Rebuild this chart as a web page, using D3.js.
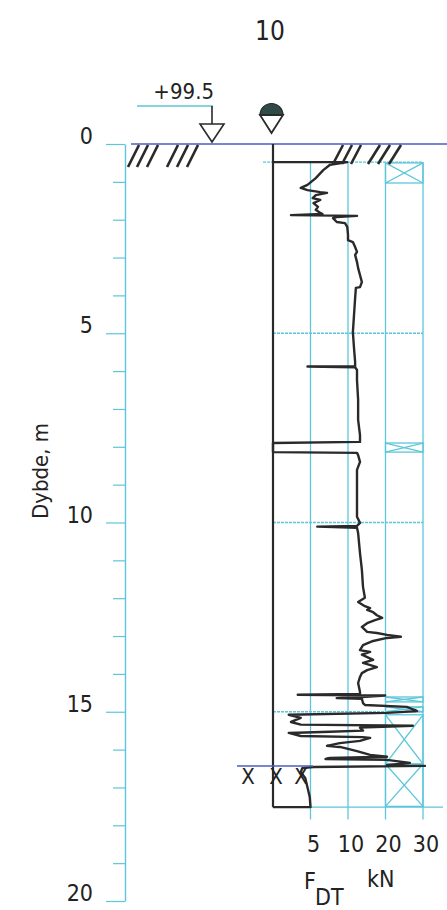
<!DOCTYPE html>
<html><head><meta charset="utf-8">
<script src="https://cdn.jsdelivr.net/npm/d3@7"></script>
<style>
html,body{margin:0;padding:0;background:#fff;}
svg{display:block;}
text{font-family:'DejaVu Sans Condensed','DejaVu Sans',sans-serif;font-stretch:condensed;fill:#222;}
</style></head><body>
<svg id="chart" width="447" height="910"></svg>
<script>
// ---------- data ----------
const title = "10";
const axisTitle = "Dybde, m";
const elevationLabel = "+99.5";
const depthTicks = d3.range(0, 21, 1);
const depthLabels = [0, 5, 10, 15, 20];
const forceTicks = [5, 10, 20, 30];
const forceBreaks = [0, 10, 30];
const forceUnit = "kN";
const gridDepths = [5, 10, 15];
const soundingTop = 0.48;
const soundingEnd = 17.52;
const gridBottom = 17.85;
const markerDepth = 16.43;
const crossIntervals = [[0.50, 1.03], [7.90, 8.14], [14.61, 14.74], [14.87, 15.0], [15.08, 16.38], [16.38, 17.5]];
const profileDepth = [0.48,0.48,0.50,0.55,0.69,0.90,1.08,1.16,1.22,1.27,1.29,1.35,1.43,1.48,1.56,1.66,1.74,1.82,1.85,1.88,1.90,1.93,1.96,2.06,2.09,2.19,2.40,2.54,2.59,2.72,2.85,2.93,3.12,3.28,3.46,3.65,3.78,3.80,4.07,4.52,4.97,5.39,5.76,5.87,5.88,5.90,5.97,6.24,6.76,7.29,7.69,7.87,7.90,8.14,8.16,8.22,8.40,8.61,9.14,9.85,10.01,10.09,10.11,10.14,10.28,10.81,11.25,11.70,11.99,12.10,12.21,12.26,12.31,12.37,12.45,12.52,12.58,12.66,12.76,12.89,12.92,12.97,13.02,13.05,13.13,13.24,13.37,13.42,13.49,13.63,13.71,13.82,13.90,13.98,14.08,14.24,14.48,14.53,14.55,14.57,14.61,14.64,14.66,14.77,14.82,14.87,14.98,15.01,15.03,15.08,15.16,15.27,15.34,15.37,15.42,15.50,15.53,15.56,15.64,15.67,15.69,15.77,15.83,15.90,15.93,15.96,16.04,16.14,16.19,16.22,16.25,16.27,16.35,16.41,16.43,16.46,16.49,16.60,16.75,17.00,17.25,17.52,17.52];
const profileForce = [0,9.9,9.3,7.6,6.7,5.7,4.6,3.7,4.6,6.3,7.2,5.7,5.3,6.3,5.4,6.0,5.7,6.3,6.6,2.4,12.4,8.5,8.0,8.5,9.6,9.9,10.0,10.0,11.3,11.9,12.4,11.9,12.4,12.7,13.2,13.7,13.2,12.1,11.9,11.6,11.3,11.6,11.9,11.9,4.6,11.9,12.4,12.4,12.7,12.7,13.2,13.2,0,0,12.4,12.7,13.2,12.4,12.4,12.4,13.2,12.4,5.9,12.4,12.7,13.2,13.7,14.0,14.5,12.7,14.5,15.9,15.1,16.7,17.7,19.1,17.2,15.1,13.7,15.1,17.7,20.4,24.1,20.4,16.7,14.0,13.2,15.9,13.7,16.7,14.0,17.7,15.1,13.7,13.2,12.7,13.2,13.2,3.3,19.9,13.7,8.5,13.7,14.0,14.5,25.7,28.4,23.9,20.4,2.1,3.7,2.4,3.7,27.3,13.2,14.0,7.6,2.1,3.7,14.0,15.9,13.2,8.9,7.2,8.9,9.6,12.4,15.9,20.4,7.6,7.0,20.4,26.5,20.4,30.5,5.4,3.9,3.7,4.3,4.6,4.9,5.0,0];

// ---------- styles ----------
const CYAN = "#5cc6da", BLUE = "#4a5ec6", INK = "#2a2a2a";

const svg = d3.select("#chart");
const y = d3.scaleLinear().domain([0, 20]).range([144, 901]);
const x = d3.scaleLinear().domain(forceBreaks).range([273, 348, 423]);

// title
svg.append("text").attr("x", 270).attr("y", 40).attr("text-anchor", "middle")
  .style("font-size", "26px").text(title);

// depth axis
const axisG = svg.append("g").attr("transform", "translate(125,0)")
  .call(d3.axisLeft(y).tickValues(depthTicks).tickSize(12).tickSizeOuter(0).tickFormat(""));
axisG.select(".domain").attr("stroke", CYAN).attr("stroke-width", 1.4);
axisG.selectAll(".tick line").attr("stroke", CYAN).attr("stroke-width", 1.2)
  .attr("x2", d => depthLabels.includes(d) ? -19 : -12);
svg.selectAll(".dlab").data(depthLabels).enter().append("text")
  .attr("x", 93).attr("y", d => y(d)).attr("text-anchor", "end")
  .style("font-size", "23px").text(d => d);
svg.append("text").attr("transform", "translate(48," + 471 + ") rotate(-90)")
  .attr("text-anchor", "middle").style("font-size", "22px").text(axisTitle);

// cyan grid
const grid = svg.append("g").attr("stroke", CYAN).attr("stroke-width", 1.3).attr("fill", "none");
forceTicks.forEach(f => grid.append("line").attr("x1", x(f)).attr("x2", x(f))
  .attr("y1", y(soundingTop)).attr("y2", y(gridBottom)));
grid.append("line").attr("x1", x(0) - 10).attr("x2", x(30)).attr("y1", y(soundingTop)).attr("y2", y(soundingTop))
  .attr("stroke-dasharray", "3,1");
gridDepths.forEach(d => grid.append("line").attr("x1", x(0)).attr("x2", x(30))
  .attr("y1", y(d)).attr("y2", y(d)).attr("stroke-dasharray", "3,1"));
grid.append("line").attr("x1", x(5)).attr("x2", 443).attr("y1", y(soundingEnd)).attr("y2", y(soundingEnd));

// cross boxes
crossIntervals.forEach(([a, b]) => {
  const x0 = x(20), x1 = x(30), y0 = y(a), y1 = y(b);
  grid.append("rect").attr("x", x0).attr("y", y0).attr("width", x1 - x0).attr("height", y1 - y0);
  grid.append("line").attr("x1", x0).attr("y1", y0).attr("x2", x1).attr("y2", y1);
  grid.append("line").attr("x1", x1).attr("y1", y0).attr("x2", x0).attr("y2", y1);
});

// ground surface
svg.append("line").attr("x1", 131).attr("x2", 447).attr("y1", y(0)).attr("y2", y(0))
  .attr("stroke", BLUE).attr("stroke-width", 1.5);
const hatch = svg.append("g").attr("stroke", INK).attr("stroke-width", 2.6);
[128,137,147,167,177,187].forEach(b =>
  hatch.append("line").attr("x1", b).attr("y1", 167).attr("x2", b + 11).attr("y2", 145));
[[333,342,351],[368,378,389]].forEach((arr, i) => arr.forEach(b =>
  hatch.append("line").attr("x1", b).attr("y1", 164).attr("x2", b + 10 + i * 2).attr("y2", 145)));

// elevation marker
svg.append("line").attr("x1", 137).attr("x2", 213).attr("y1", 106).attr("y2", 106)
  .attr("stroke", CYAN).attr("stroke-width", 1.3);
svg.append("line").attr("x1", 212).attr("x2", 212).attr("y1", 106).attr("y2", 124)
  .attr("stroke", INK).attr("stroke-width", 1.6);
svg.append("path").attr("d", "M200,124L224,124L212,142Z").attr("fill", "#fff")
  .attr("stroke", INK).attr("stroke-width", 1.6);
svg.append("text").attr("x", 214).attr("y", 99).attr("text-anchor", "end")
  .style("font-size", "22px").text(elevationLabel);

// sounding symbol
const cx = x(0) - 1.5, cy = 115, r = 11.5;
svg.append("path").attr("d", `M${cx - r},${cy}A${r},${r} 0 0 1 ${cx + r},${cy}Z`)
  .attr("fill", "#2f4a47").attr("stroke", INK).attr("stroke-width", 1.2);
svg.append("path").attr("d", `M${cx - r},${cy}L${cx + r},${cy}L${cx},${cy + 18}Z`)
  .attr("fill", "#fff").attr("stroke", INK).attr("stroke-width", 1.8);

// zero line
svg.append("line").attr("x1", x(0)).attr("x2", x(0)).attr("y1", y(0)).attr("y2", y(soundingEnd))
  .attr("stroke", INK).attr("stroke-width", 2.2);

// profile
const pts = profileDepth.map((d, i) => [profileForce[i], d]);
svg.append("path").datum(pts)
  .attr("d", d3.line().x(p => x(p[0])).y(p => y(p[1])))
  .attr("fill", "none").attr("stroke", INK).attr("stroke-width", 2.4).attr("stroke-linejoin", "round");

// marker line & X
svg.append("line").attr("x1", 237).attr("x2", 313).attr("y1", y(markerDepth)).attr("y2", y(markerDepth))
  .attr("stroke", BLUE).attr("stroke-width", 1.5);
[248, 276, 301].forEach(px => svg.append("text").attr("x", px).attr("y", 784)
  .attr("text-anchor", "middle").style("font-size", "22px").text("X"));

// force labels
svg.selectAll(".flab").data(forceTicks).enter().append("text")
  .attr("x", d => x(d) + 3).attr("y", 852).attr("text-anchor", "middle")
  .style("font-size", "23px").text(d => d);
svg.append("text").attr("x", 304).attr("y", 889).style("font-size", "23px").text("F");
svg.append("text").attr("x", 315).attr("y", 905).style("font-size", "23px").text("DT");
svg.append("text").attr("x", 367).attr("y", 887).style("font-size", "23px").text(forceUnit);
</script>
</body></html>
